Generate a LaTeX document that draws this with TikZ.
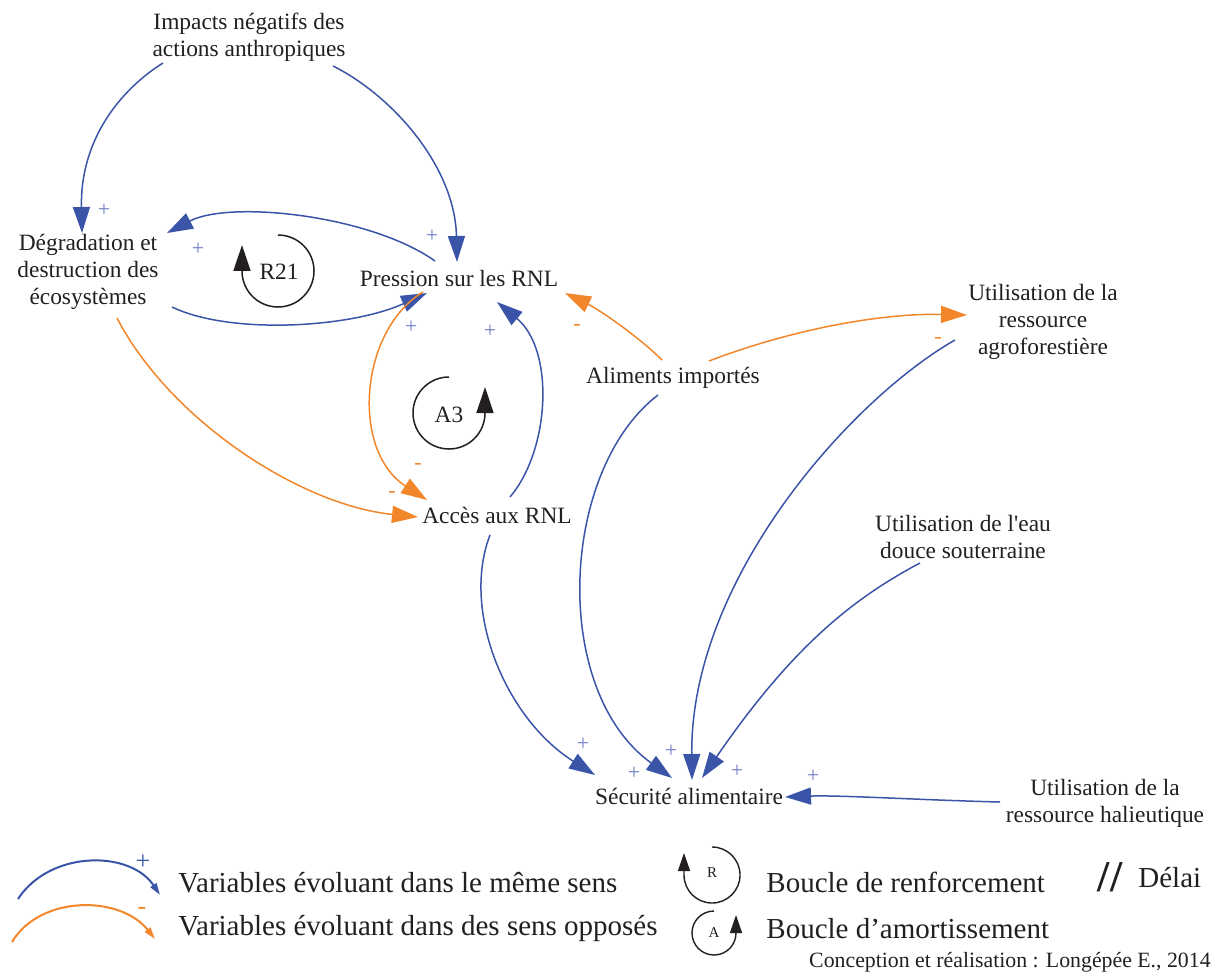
\documentclass[tikz,border=0pt]{standalone}
\usepackage{fontspec}
\setmainfont{Liberation Serif}
\usetikzlibrary{arrows.meta,calc}

\definecolor{lienplus}{HTML}{3A55A8}
\definecolor{lienmoins}{HTML}{F2862B}
\definecolor{signebleu}{HTML}{6F80C8}
\definecolor{texte}{HTML}{231F20}

\begin{document}
\begin{tikzpicture}[x=0.5pt,y=-0.5pt,
  varnoeud/.style={font=\fontsize{11.7}{13.5}\selectfont,align=center,inner sep=0pt,text=texte},
  lienpos/.style={draw=lienplus,line width=0.75pt,-{Triangle[length=13pt,width=8.5pt]}},
  lienneg/.style={draw=lienmoins,line width=0.75pt,-{Triangle[length=13pt,width=8.5pt]}},
  signeplus/.style={text=signebleu,font=\fontsize{11}{11}\selectfont,inner sep=0pt},
  signemoins/.style={text=lienmoins,font=\fontsize{11}{11}\selectfont,inner sep=0pt},
  boucle/.style={draw=texte,line width=0.75pt,-{Triangle[length=13pt,width=8.5pt]}},
  legende/.style={font=\fontsize{14.5}{17}\selectfont,anchor=west,inner sep=0pt,text=texte}]
  \useasboundingbox (0,0) rectangle (1213,978); % cadre de l'image

  % variables du diagramme
  \node[varnoeud] (impacts) at (249,37) {Impacts négatifs des\\actions anthropiques};
  \node[varnoeud] (degradation) at (88,272) {Dégradation et\\destruction des\\écosystèmes};
  \node[varnoeud] (pression) at (459,278) {Pression sur les RNL};
  \node[varnoeud] (agro) at (1043,322) {Utilisation de la\\ressource\\agroforestière};
  \node[varnoeud] (aliments) at (673,378) {Aliments importés};
  \node[varnoeud] (acces) at (497,515) {Accès aux RNL};
  \node[varnoeud] (eau) at (963,537) {Utilisation de l\textquotesingle eau\\douce souterraine};
  \node[varnoeud] (securite) at (689,796) {Sécurité alimentaire};
  \node[varnoeud] (halieu) at (1105,803) {Utilisation de la\\ressource halieutique};

  % liens positifs (bleu)
  \draw[lienpos] ($(impacts)+(-86,26)$) .. controls +(-43,27) and +(-2,-93) .. ($(degradation)+(-6,-39)$); % impacts -> dégradation
  \draw[lienpos] ($(impacts)+(84,29)$) .. controls +(60,30) and +(-2,-95) .. ($(pression)+(-2,-16)$); % impacts -> pression
  \draw[lienpos] ($(pression)+(-24,-17)$) .. controls +(-65,-46) and +(63,-33) .. ($(degradation)+(79,-39)$); % pression -> dégradation
  \draw[lienpos] ($(degradation)+(84,35)$) .. controls +(58,28) and +(-77,35) .. ($(pression)+(-32,15)$); % dégradation -> pression
  \draw[lienpos] ($(acces)+(13,-18)$) .. controls +(40,-47) and +(58,48) .. ($(pression)+(38,24)$); % accès -> pression
  \draw[lienpos] ($(acces)+(-7,20)$) .. controls +(-29,75) and +(-90,-57) .. ($(securite)+(-94,-21)$); % accès -> sécurité
  \draw[lienpos] ($(aliments)+(-15,17)$) .. controls +(-98,75) and +(-122,-88) .. ($(securite)+(-17,-18)$); % aliments -> sécurité
  \draw[lienpos] ($(agro)+(-88,18)$) .. controls +(-105,60) and +(-2,-200) .. ($(securite)+(3,-16)$); % agroforesterie -> sécurité
  \draw[lienpos] ($(eau)+(-43,26)$) .. controls +(-70,37) and +(88,-128) .. ($(securite)+(13,-18)$); % eau douce -> sécurité
  \draw[lienpos] ($(halieu)+(-105,-1)$) .. controls +(-80,-2) and +(55,-2) .. ($(securite)+(96,1)$); % halieutique -> sécurité

  % liens négatifs (orange)
  \draw[lienneg] ($(pression)+(-36,14)$) .. controls +(-63,38) and +(-77,-50) .. ($(acces)+(-70,-15)$); % pression -> accès
  \draw[lienneg] ($(degradation)+(29,46)$) .. controls +(53,102) and +(-118,-12) .. ($(acces)+(-79,2)$); % dégradation -> accès
  \draw[lienneg] ($(aliments)+(-11,-18)$) .. controls +(-22,-22) and +(35,17) .. ($(pression)+(106,15)$); % aliments -> pression
  \draw[lienneg] ($(aliments)+(36,-17)$) .. controls +(81,-31) and +(-87,-2) .. ($(agro)+(-76,-7)$); % aliments -> agroforesterie

  % signes des liens
  \foreach \x/\y [count=\i] in {104/210,432/236,198/249,411/327,490/331,583/744,634/773,671/751,737/771,813/776}
    \node[signeplus] (plus\i) at (\x,\y) {+};
  \foreach \x/\y [count=\i] in {418/466,392/494,577/327,938/340}
    \node[signemoins] (moins\i) at (\x,\y) {-};

  % boucles
  \node[varnoeud] (r21) at (279,272) {R21};
  \draw[boucle] ($(r21)+(-1,-37)$) arc[start angle=-90,end angle=180,radius=36] -- ++(0,-26); % boucle de renforcement
  \node[varnoeud] (a3) at (449,415) {A3};
  \draw[boucle] ($(a3)+(0,-38)$) arc[start angle=-90,end angle=-360,radius=36] -- ++(0,-26); % boucle d'amortissement

  % légende
  \draw[draw=lienplus,line width=1pt,-{Triangle[length=6pt,width=3.5pt]}] (18,899) .. controls (50,850) and (130,850) .. (160,895); % flèche bleue
  \node[text=lienplus,font=\fontsize{13}{13}\selectfont,inner sep=0pt] (legplus) at (143,862) {+};
  \draw[draw=lienmoins,line width=1pt,-{Triangle[length=6pt,width=3.5pt]}] (12,942) .. controls (40,895) and (120,895) .. (155,939); % flèche orange
  \node[text=lienmoins,font=\fontsize{13}{13}\selectfont,inner sep=0pt] (legmoins) at (142,911) {-};
  \node[legende] (legpos) at (178,883) {Variables évoluant dans le même sens};
  \node[legende] (legneg) at (178,928) {Variables évoluant dans des sens opposés};

  \node[font=\fontsize{7.5}{8}\selectfont,inner sep=0pt,text=texte] (legR) at (712,873) {R};
  \draw[draw=texte,line width=0.7pt,-{Triangle[length=9pt,width=6pt]}] ($(legR)+(0,-26)$) arc[start angle=-90,end angle=180,radius=28] -- ++(0,-22);
  \node[font=\fontsize{7.5}{8}\selectfont,inner sep=0pt,text=texte] (legA) at (714,933) {A};
  \draw[draw=texte,line width=0.7pt,-{Triangle[length=9pt,width=6pt]}] ($(legA)+(0,-22)$) arc[start angle=-90,end angle=-360,radius=22] -- ++(0,-18);
  \node[legende] (legrenf) at (766,882) {Boucle de renforcement};
  \node[legende] (legamort) at (766,929) {Boucle d’amortissement};
  \node[font=\fontsize{22}{22}\selectfont\bfseries,inner sep=0pt,text=texte] (legdelai) at (1110,877) {//};
  \node[legende] (legdelaitxt) at (1138,878) {Délai};

  \node[font=\fontsize{10.9}{12}\selectfont,anchor=east,inner sep=0pt,text=texte] (credit) at (1211,962) {Conception et réalisation : Longépée E., 2014};
\end{tikzpicture}
\end{document}
